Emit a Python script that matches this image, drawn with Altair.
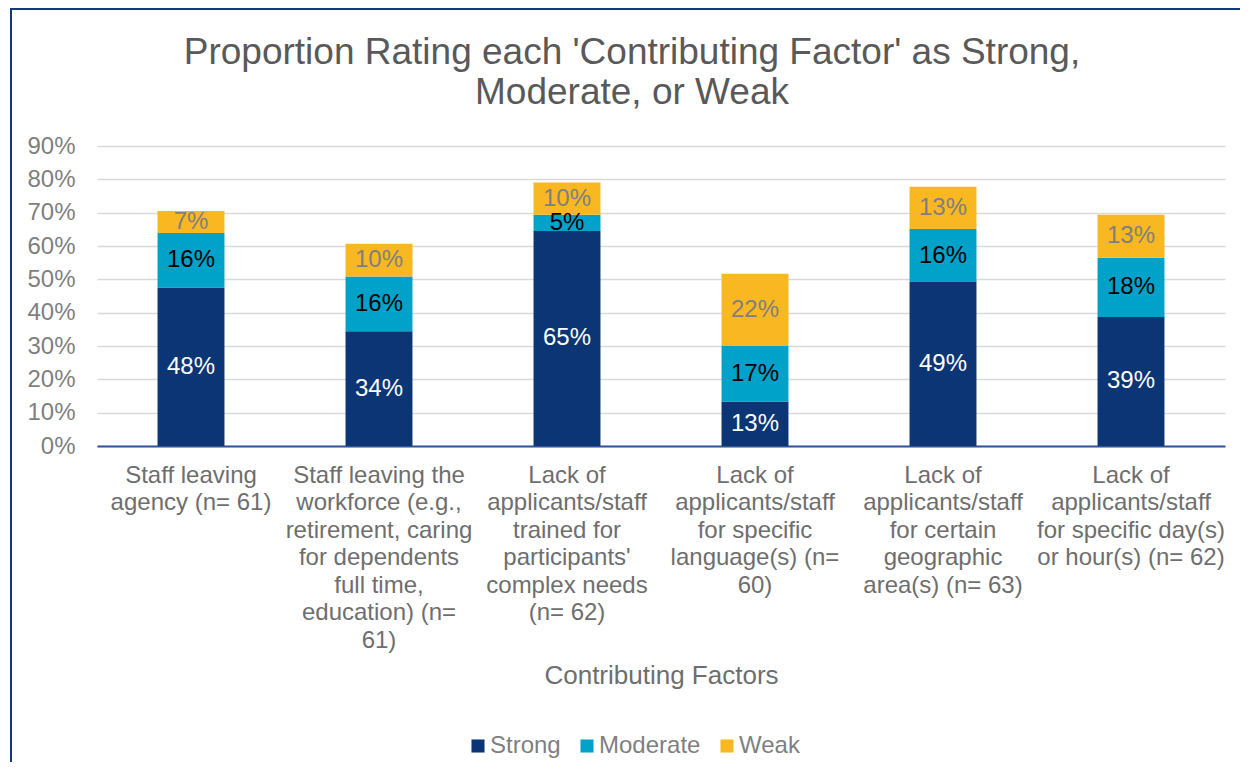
import altair as alt
import pandas as pd

# ---- data ----
factor_lines = [
    ["Staff leaving", "agency (n= 61)"],
    ["Staff leaving the", "workforce (e.g.,", "retirement, caring", "for dependents", "full time,", "education) (n=", "61)"],
    ["Lack of", "applicants/staff", "trained for", "participants'", "complex needs", "(n= 62)"],
    ["Lack of", "applicants/staff", "for specific", "language(s) (n=", "60)"],
    ["Lack of", "applicants/staff", "for certain", "geographic", "area(s) (n= 63)"],
    ["Lack of", "applicants/staff", "for specific day(s)", "or hour(s) (n= 62)"],
]
factors = ["\n".join(l) for l in factor_lines]
series = ["Strong", "Moderate", "Weak"]
strong = [0.4754, 0.3443, 0.6452, 0.1333, 0.4921, 0.3871]
moderate = [0.1639, 0.1639, 0.0484, 0.1667, 0.1587, 0.1774]
weak = [0.0656, 0.0984, 0.0968, 0.2167, 0.1270, 0.1290]
colors = ["#0C3575", "#00A2CA", "#F9B822"]
y_ticks = [0, 0.1, 0.2, 0.3, 0.4, 0.5, 0.6, 0.7, 0.8, 0.9]

rows = []
for i, f in enumerate(factors):
    for j, (s, vals) in enumerate(zip(series, [strong, moderate, weak])):
        rows.append({"factor": f, "series": s, "order": j, "value": vals[i]})
df = pd.DataFrame(rows)

FONT = "Liberation Sans"
GRAY = "#7F7F7F"

x_axis = alt.Axis(
    labelExpr="split(datum.label, '\\n')",
    labelAngle=0,
    labelFontSize=24,
    labelLineHeight=27.5,
    labelColor="#6E6E6E",
    labelFont=FONT,
    labelLimit=0,
    labelPadding=17,
    ticks=False,
    grid=False,
    domainColor="#2F5597",
    domainWidth=2,
    titleFontSize=26,
    titleFont=FONT,
    titleColor="#6E6E6E",
    titleFontWeight="normal",
    titlePadding=16,
)
x_scale = alt.Scale(paddingInner=0.644, paddingOuter=0.322)

y_axis = alt.Axis(
    values=y_ticks,
    format=".0%",
    title=None,
    domain=False,
    ticks=False,
    labelOverlap=False,
    labelFontSize=24,
    labelFont=FONT,
    labelColor=GRAY,
    labelPadding=22,
    grid=True,
    gridColor="#D9D9D9",
    gridWidth=1.5,
)
y_scale = alt.Scale(domain=[0, 0.9], nice=False)

base = alt.Chart(df)

bars = base.mark_bar().encode(
    x=alt.X("factor:N", sort=factors, title="Contributing Factors", scale=x_scale, axis=x_axis),
    y=alt.Y("value:Q", stack="zero", scale=y_scale, axis=y_axis),
    color=alt.Color(
        "series:N",
        sort=series,
        scale=alt.Scale(domain=series, range=colors),
        legend=alt.Legend(
            title=None,
            orient="none",
            legendX=369,
            legendY=588,
            direction="horizontal",
            symbolType="square",
            symbolSize=170,
            symbolStrokeWidth=0,
            labelFontSize=24,
            labelFont=FONT,
            labelColor=GRAY,
            columnPadding=14,
            labelOffset=0,
        ),
    ),
    order=alt.Order("order:Q", sort="ascending"),
)

labels = (
    base.transform_stack(
        stack="value",
        as_=["v0", "v1"],
        groupby=["factor"],
        sort=[alt.SortField("order", "ascending")],
    )
    .transform_calculate(
        mid="(datum.v0 + datum.v1) / 2",
        tcolor="datum.series == 'Strong' ? '#FFFFFF' : (datum.series == 'Moderate' ? '#000000' : '#7F7F7F')",
    )
    .mark_text(fontSize=24, font=FONT, baseline="middle", align="center")
    .encode(
        x=alt.X("factor:N", sort=factors, title="Contributing Factors", scale=x_scale, axis=x_axis),
        y=alt.Y("mid:Q", scale=y_scale, axis=y_axis),
        text=alt.Text("value:Q", format=".0%"),
        color=alt.Color("tcolor:N", scale=None, legend=None),
    )
)

frame = (
    alt.Chart(pd.DataFrame({"k": [0]}))
    .mark_rect(fill="white", fillOpacity=0, stroke="#12397E", strokeWidth=2)
    .encode(
        x=alt.value(-86),
        x2=alt.value(1400),
        y=alt.value(-137),
        y2=alt.value(900),
    )
)

chart = (
    alt.layer(frame, bars, labels)
    .properties(
        width=1128,
        height=300,
        title=alt.TitleParams(
            text=["Proportion Rating each 'Contributing Factor' as Strong,", "Moderate, or Weak"],
            fontSize=37,
            font=FONT,
            color="#595959",
            fontWeight="normal",
            anchor="middle",
            frame="group",
            dx=-29,
            lineHeight=40,
            offset=-104,
        ),
        autosize=alt.AutoSizeParams(type="none"),
        padding={"left": 89, "top": 138, "right": 15, "bottom": 316},
    )
    .configure(background="white")
    .configure_view(strokeWidth=0, stroke="transparent")
)

chart.save("out.html", embed_options={"renderer": "svg", "actions": False})
